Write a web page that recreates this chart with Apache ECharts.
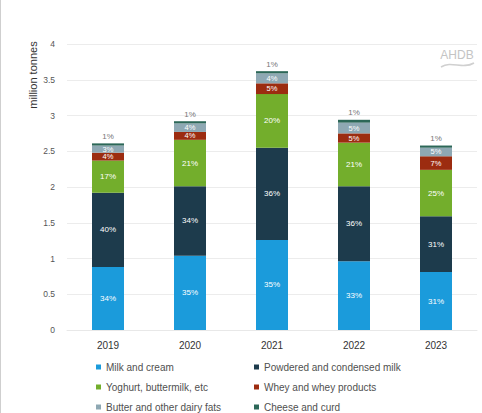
<!DOCTYPE html>
<html>
<head>
<meta charset="utf-8">
<script src="https://cdn.jsdelivr.net/npm/echarts@6/dist/echarts.min.js"></script>
<style>
html,body{margin:0;padding:0;background:#fff;}
#c{width:482px;height:413px;}
</style>
</head>
<body>
<div id="c"></div>
<script>
var years = ['2019', '2020', '2021', '2022', '2023'];
var seriesNames = ['Milk and cream', 'Powdered and condensed milk', 'Yoghurt, buttermilk, etc', 'Whey and whey products', 'Butter and other dairy fats', 'Cheese and curd'];
var milk = [0.88, 1.04, 1.26, 0.96, 0.81];
var powdered = [1.04, 0.97, 1.29, 1.05, 0.78];
var yoghurt = [0.45, 0.65, 0.75, 0.61, 0.65];
var whey = [0.11, 0.11, 0.15, 0.13, 0.19];
var butter = [0.10, 0.12, 0.14, 0.15, 0.12];
var cheese = [0.03, 0.03, 0.03, 0.04, 0.03];
var milkPct = ['34%', '35%', '35%', '33%', '31%'];
var powderedPct = ['40%', '34%', '36%', '36%', '31%'];
var yoghurtPct = ['17%', '21%', '20%', '21%', '25%'];
var wheyPct = ['4%', '4%', '5%', '5%', '7%'];
var butterPct = ['3%', '4%', '4%', '5%', '5%'];
var cheesePct = ['1%', '1%', '1%', '1%', '1%'];
var yTicks = [0, 0.5, 1, 1.5, 2, 2.5, 3, 3.5, 4];

var colors = ['#1B9BDB', '#1D3B4C', '#73AE2C', '#9C2C10', '#8EA8B3', '#2C6758'];
var values = [milk, powdered, yoghurt, whey, butter, cheese];
var pcts = [milkPct, powderedPct, yoghurtPct, wheyPct, butterPct, cheesePct];
var fontSizes = [8, 8, 8, 7.5, 7.5, 8];

var series = seriesNames.map(function (name, i) {
  var top = i === 5;
  return {
    name: name,
    type: 'bar',
    stack: 'total',
    barWidth: 32,
    itemStyle: { color: colors[i] },
    data: values[i],
    label: {
      show: true,
      position: top ? 'top' : 'inside',
      distance: 3,
      color: top ? '#777' : '#fff',
      fontSize: fontSizes[i],
      fontFamily: 'Liberation Sans, Arial, sans-serif',
      formatter: function (p) { return pcts[i][p.dataIndex]; }
    }
  };
});

var legendText = { color: '#505050', fontSize: 10, lineHeight: 12, fontFamily: 'Liberation Sans, Arial, sans-serif' };

var chart = echarts.init(document.getElementById('c'), null, { renderer: 'svg' });
chart.setOption({
  animation: false,
  backgroundColor: '#fff',
  grid: { left: 67, right: 5, top: 44, bottom: 83, containLabel: false },
  xAxis: {
    type: 'category',
    data: years,
    axisLine: { show: true, lineStyle: { color: '#e8e8e8' } },
    axisTick: { show: false },
    axisLabel: { color: '#333', fontSize: 10, margin: 10, fontFamily: 'Liberation Sans, Arial, sans-serif' }
  },
  yAxis: {
    type: 'value',
    min: 0,
    max: 4,
    interval: 0.5,
    axisLine: { show: false },
    axisTick: { show: false },
    splitLine: { lineStyle: { color: '#ececec', width: 1 } },
    axisLabel: {
      color: '#555', fontSize: 8.5, margin: 12,
      fontFamily: 'Liberation Sans, Arial, sans-serif',
      formatter: function (v) { return yTicks.indexOf(v) >= 0 ? String(v) : ''; }
    }
  },
  legend: [
    {
      data: [seriesNames[0], seriesNames[2], seriesNames[4]],
      orient: 'vertical', left: 96, top: 361, height: 80, padding: 0,
      itemWidth: 5, itemHeight: 5, itemGap: 8, icon: 'rect',
      textStyle: legendText
    },
    {
      data: [seriesNames[1], seriesNames[3], seriesNames[5]],
      orient: 'vertical', left: 254, top: 361, height: 80, padding: 0,
      itemWidth: 5, itemHeight: 5, itemGap: 8, icon: 'rect',
      textStyle: legendText
    }
  ],
  graphic: [
    {
      type: 'text', x: 33, y: 75, rotation: Math.PI / 2,
      style: { text: 'million tonnes', fill: '#333', fontSize: 11, textAlign: 'center', textVerticalAlign: 'middle', fontFamily: 'Liberation Sans, Arial, sans-serif' }
    },
    {
      type: 'text', x: 457, y: 55,
      style: { text: 'AHDB', fill: '#c4c4c4', fontSize: 12, textAlign: 'center', textVerticalAlign: 'middle', fontFamily: 'Liberation Sans, Arial, sans-serif' }
    },
    {
      type: 'bezierCurve',
      shape: { x1: 441, y1: 67, cpx1: 452, cpy1: 60, cpx2: 462, cpy2: 70, x2: 474, y2: 63 },
      style: { stroke: '#d0d0d0', lineWidth: 1.5, fill: null }
    },
    {
      type: 'line',
      shape: { x1: 0.5, y1: 0, x2: 0.5, y2: 413 },
      style: { stroke: '#cfcfcf', lineWidth: 1 }
    }
  ],
  series: series
});
</script>
</body>
</html>
